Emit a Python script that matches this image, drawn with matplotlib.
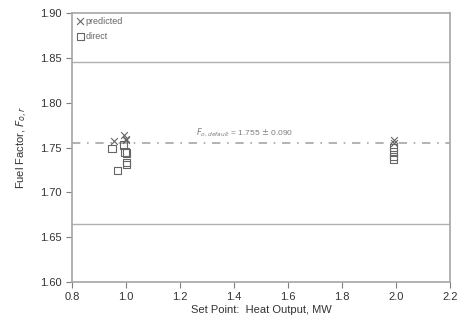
import matplotlib
matplotlib.use("Agg")
import matplotlib.pyplot as plt

# predicted fuel factors
pred_x = [0.955, 0.99, 1.0, 1.0, 1.99, 1.99]
pred_y = [1.757, 1.764, 1.758, 1.760, 1.758, 1.755]

# direct fuel factors
dir_x = [0.947, 0.968, 0.99, 0.995, 1.0, 1.0, 1.0, 1.99, 1.99, 1.99, 1.99]
dir_y = [1.749, 1.724, 1.753, 1.745, 1.744, 1.733, 1.731, 1.750, 1.745, 1.740, 1.737]

default_val = 1.755
band = 0.090

plt.rcParams['font.family'] = ['Liberation Sans', 'DejaVu Sans']
grey = '#7f7f7f'
txt = '#333333'

fig = plt.figure(figsize=(4.6, 3.26), dpi=100)
ax = fig.add_axes([0.157, 0.135, 0.822, 0.825])

ax.axhline(default_val + band, color='#b0b0b0', lw=1.0)
ax.axhline(default_val - band, color='#b0b0b0', lw=1.0)
ax.axhline(default_val, color='#a6a6a6', lw=1.2, ls=(0, (5, 4, 1, 4)))

ax.scatter(pred_x, pred_y, marker='x', s=24, color='#666666', lw=0.8, label='predicted', zorder=3)
ax.scatter(dir_x, dir_y, marker='s', s=28, facecolor='none', edgecolor='#666666', lw=0.8,
           label='direct', zorder=3)

ax.text(1.26, default_val + 0.004,
        r'$F_{o,default}$ = %.3f $\pm$ %.3f' % (default_val, band),
        fontsize=6, color=grey, va='bottom')

ax.set_xlim(0.8, 2.2)
ax.set_ylim(1.60, 1.90)
ax.set_xticks([0.8, 1.0, 1.2, 1.4, 1.6, 1.8, 2.0, 2.2])
ax.set_yticks([1.60, 1.65, 1.70, 1.75, 1.80, 1.85, 1.90])
ax.xaxis.set_major_formatter(matplotlib.ticker.FormatStrFormatter('%.1f'))
ax.yaxis.set_major_formatter(matplotlib.ticker.FormatStrFormatter('%.2f'))
ax.tick_params(direction='out', length=4, width=0.8, color=grey, labelsize=8, labelcolor=txt)

for s in ax.spines.values():
    s.set_color('#a6a6a6')
    s.set_linewidth(1.2)

ax.set_xlabel('Set Point:  Heat Output, MW', fontsize=8, color=txt, labelpad=2)
ax.set_ylabel(r'Fuel Factor, $F_{o,r}$', fontsize=8, color=txt, labelpad=7)

leg = ax.legend(loc='upper left', frameon=False, fontsize=6.5, handletextpad=0.1,
                borderaxespad=0.3, handlelength=1.0, labelspacing=0.7, borderpad=0.1)
for t in leg.get_texts():
    t.set_color('#666666')

fig.savefig('out.png', dpi=100)
